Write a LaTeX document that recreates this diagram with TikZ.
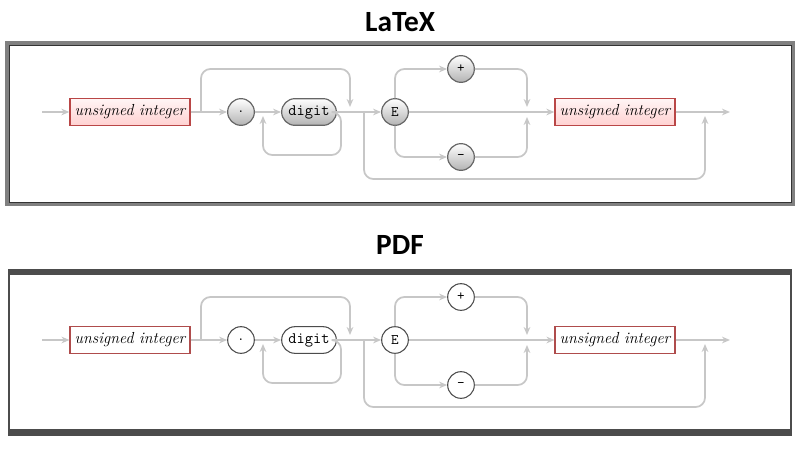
\documentclass[tikz,border=0pt]{standalone}
\usepackage{fontspec}
\newfontfamily\titlefont{Carlito}
\usetikzlibrary{arrows.meta}
\newcommand\diagpanel[1]{%
\begin{scope}[shift={(0,#1)}]
\coordinate (st) at (42,0);
\coordinate (en) at (730,0);
\node[term] (ui1) at (130,0) {unsigned integer};
\node[circ] (dot) at (241,0) {.};
\node[pill] (dig) at (309,0) {digit};
\node[circ] (E) at (395,0) {E};
\node[circ] (pl) at (461,-43) {+};
\node[circ] (mi) at (461,45) {-};
\node[term] (ui2) at (615,0) {unsigned integer};
\draw[ln] (st) -- (ui1);
\draw[ln] (ui1) -- (dot);
\draw[ln] (dot) -- (dig);
\draw[ln] (dig) -- (E);
\draw[ln,rounded corners=7pt] (dig.east) -- (341,0) -- (341,43) -- (263,43) -- (263,4);
\draw[ln,rounded corners=7pt] (201,0) -- (201,-43) -- (350,-43) -- (350,-5);
\draw[ln,rounded corners=7pt] (364,0) -- (364,67) -- (705,67) -- (705,4);
\draw[ln,rounded corners=7pt] (E.north) -- (395,-43) -- (pl);
\draw[ln,rounded corners=7pt] (pl) -- (527,-43) -- (527,-5);
\draw[ln,rounded corners=7pt] (E.south) -- (395,45) -- (mi);
\draw[ln,rounded corners=7pt] (mi) -- (527,45) -- (527,5);
\draw[ln] (E) -- (ui2);
\draw[ln] (ui2) -- (en);
\end{scope}}
\begin{document}
\begin{tikzpicture}[x=0.75pt,y=-0.75pt,
 ln/.style={draw=black!22,line width=1.3pt,-{Stealth[length=6pt,width=5pt]}},
 base/.style={inner sep=0pt},
 termA/.style={base,rectangle,minimum width=90pt,minimum height=20pt,font=\fontsize{12}{14}\selectfont\itshape,draw=red!45!gray,line width=1pt,top color=red!4,bottom color=red!18},
 circA/.style={base,circle,minimum size=20pt,draw=black!60,line width=0.9pt,top color=white,bottom color=black!30,font=\fontsize{11}{13}\selectfont\ttfamily},
 pillA/.style={base,rectangle,rounded corners=10pt,minimum width=41pt,minimum height=20pt,draw=black!60,line width=0.9pt,top color=white,bottom color=black!30,font=\fontsize{12}{14}\selectfont\ttfamily},
 termB/.style={base,rectangle,minimum width=90pt,minimum height=20pt,font=\fontsize{12}{14}\selectfont\itshape,draw=red!55!black!70,line width=0.8pt,fill=white},
 circB/.style={base,circle,minimum size=20pt,draw=black!70,line width=0.8pt,fill=white,font=\fontsize{11}{13}\selectfont\ttfamily},
 pillB/.style={base,rectangle,rounded corners=10pt,minimum width=41pt,minimum height=20pt,draw=black!70,line width=0.8pt,fill=white,font=\fontsize{12}{14}\selectfont\ttfamily},
 ttl/.style={font=\titlefont\bfseries\fontsize{22}{26}\selectfont}]
\useasboundingbox (0,0) rectangle (800,450);
\node[ttl] (t1) at (400,22) {LaTeX};
\node[ttl] (t2) at (400,245) {PDF};
% top frame
\draw[draw=black!50,line width=2.5pt] (7,43) rectangle (793,204);
\draw[draw=black!80,line width=0.5pt] (9,45) rectangle (791,202);
\begin{scope}[term/.style={termA},circ/.style={circA},pill/.style={pillA}]
\diagpanel{112}
\end{scope}
% bottom frame
\draw[draw=black!70,line width=1.5pt] (9,271) rectangle (791,433);
\fill[black!70] (8,269) rectangle (792,275);
\fill[black!70] (8,429) rectangle (792,436);
\begin{scope}[term/.style={termB},circ/.style={circB},pill/.style={pillB}]
\diagpanel{340}
\end{scope}
\end{tikzpicture}
\end{document}
